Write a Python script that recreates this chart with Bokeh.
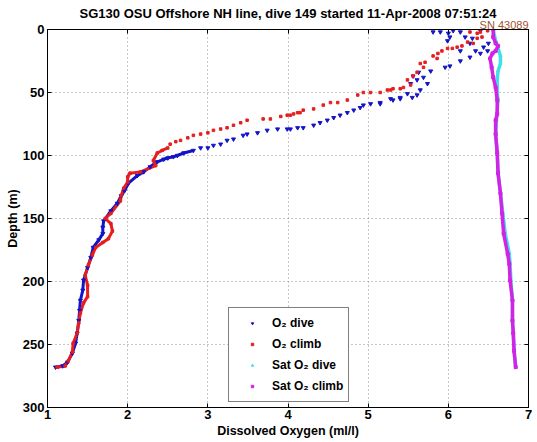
import numpy as np
from bokeh.plotting import figure
from bokeh.models import Range1d, LinearAxis, FixedTicker, Legend, LegendItem, Title
from bokeh.embed import file_html
from bokeh.resources import INLINE

title_text = "SG130 OSU Offshore NH line, dive 149 started 11-Apr-2008 07:51:24"
serial_text = "SN 43089"
x_label = "Dissolved Oxygen (ml/l)"
y_label = "Depth (m)"
x_ticks = [1, 2, 3, 4, 5, 6, 7]
y_ticks = [0, 50, 100, 150, 200, 250, 300]

# O2 dive (blue), ordered by depth
dive_o2 = [6.06, 6.40, 5.81, 5.90, 6.15, 6.00, 6.02, 6.21, 6.30, 5.99,
           6.50, 6.27, 6.44, 6.15, 6.34, 6.49, 6.40, 6.27, 6.15, 6.02,
           5.96, 5.78, 5.63, 5.56, 5.69, 5.61, 5.53, 5.74, 5.65, 5.49,
           5.61, 5.40, 5.55, 5.28, 5.40, 5.31, 5.15, 5.03, 5.15, 4.94,
           4.90, 4.82, 4.74, 4.65, 4.57, 4.49, 4.40, 4.32, 4.12, 4.19,
           4.03, 3.99, 3.87, 3.74, 3.62, 3.49, 3.44, 3.32, 3.24, 3.16,
           3.07, 3.00, 2.91, 2.82, 2.70, 2.62, 2.57, 2.50, 2.45, 2.37,
           2.28, 2.20, 2.12, 2.01, 1.96, 1.92, 1.87, 1.79, 1.70, 1.69,
           1.69, 1.64, 1.57, 1.54, 1.50, 1.45, 1.44, 1.41, 1.40, 1.39,
           1.37, 1.35, 1.31, 1.25, 1.19, 1.10]
dive_depth = [1, 1, 2, 2, 2, 3, 6, 6, 7, 9,
              11, 11, 14, 17, 17, 17, 19, 22, 25, 29,
              30, 33, 34, 37, 38, 40, 43, 43, 48, 51,
              52, 54, 54, 55, 55, 56, 58, 59, 59, 60,
              62, 64, 66, 68, 70, 72, 74, 76, 78, 78,
              79, 79, 79, 80, 82, 83, 84, 87, 88, 91,
              92, 94, 94, 96, 98, 100, 101, 102, 103, 105,
              109, 113, 116, 122, 128, 132, 138, 144, 152, 157,
              162, 167, 173, 181, 189, 199, 207, 215, 223, 231,
              241, 249, 257, 264, 267, 268]

# O2 climb (red), ordered by depth
climb_o2 = [6.49, 6.27, 6.40, 6.36, 6.42, 6.36, 6.24, 6.31, 6.17, 6.11,
            5.99, 6.05, 5.92, 5.87, 5.81, 5.86, 5.71, 5.65, 5.69, 5.61,
            5.56, 5.49, 5.53, 5.44, 5.40, 5.31, 5.24, 5.28, 5.15, 5.03,
            4.94, 4.87, 4.74, 4.62, 4.53, 4.44, 4.32, 4.19, 4.15, 4.12,
            4.07, 3.99, 4.03, 3.91, 3.78, 3.69, 3.49, 3.41, 3.32, 3.24,
            3.16, 3.07, 3.00, 2.91, 2.82, 2.75, 2.66, 2.60, 2.53, 2.50,
            2.43, 2.37, 2.32, 2.35, 2.16, 2.03, 2.00, 2.00, 1.95, 1.92,
            1.91, 1.79, 1.72, 1.79, 1.81, 1.76, 1.69, 1.60, 1.56, 1.51,
            1.47, 1.50, 1.50, 1.45, 1.41, 1.39, 1.37, 1.32, 1.31, 1.26,
            1.22, 1.12]
climb_depth = [1, 2, 2, 3, 6, 7, 10, 11, 13, 14,
               15, 15, 17, 19, 21, 23, 26, 27, 30, 34,
               37, 40, 44, 46, 47, 47, 48, 48, 50, 50,
               50, 52, 56, 58, 58, 60, 63, 64, 66, 66,
               67, 68, 68, 69, 71, 71, 72, 74, 76, 78,
               79, 80, 82, 83, 84, 86, 88, 89, 91, 94,
               96, 98, 104, 108, 113, 114, 117, 121, 126, 132,
               136, 146, 150, 154, 160, 166, 169, 173, 179, 187,
               195, 203, 212, 217, 225, 233, 241, 249, 256, 263,
               267, 268]

# Sat O2 dive (cyan)
sat_dive_o2 = [6.56, 6.59, 6.62, 6.65, 6.65, 6.62, 6.61, 6.61, 6.62, 6.60, 6.59, 6.61, 6.62, 6.65,
               6.68, 6.71, 6.76, 6.77, 6.78, 6.80, 6.80, 6.81, 6.82, 6.84]
sat_dive_depth = [0, 9, 15, 21, 27, 33, 40, 51, 56, 72, 83, 98, 114, 130,
                  146, 162, 178, 186, 199, 215, 231, 241, 255, 268]

# Sat O2 climb (magenta)
sat_climb_o2 = [6.56, 6.56, 6.59, 6.62, 6.59, 6.55, 6.52, 6.54, 6.56, 6.59, 6.61, 6.61, 6.59, 6.59,
                6.61, 6.62, 6.65, 6.67, 6.69, 6.74, 6.76, 6.77, 6.80, 6.80, 6.81, 6.82, 6.84]
sat_climb_depth = [0, 6, 11, 13, 17, 19, 23, 30, 38, 46, 56, 67, 72, 83,
                   98, 114, 130, 146, 162, 178, 186, 199, 215, 231, 241, 255, 268]

BLUE = "#1414C8"
RED = "#E61E1E"
CYAN = "#40E0E8"
MAGENTA = "#D223E6"
FONT = "Liberation Sans"

p = figure(width=537, height=442, x_range=Range1d(1, 7), y_range=Range1d(300, 0),
           output_backend="svg", toolbar_location=None, title=None,
           min_border_left=47, min_border_right=9, min_border_top=29, min_border_bottom=35)

p.outline_line_color = "black"
p.outline_line_width = 1
p.background_fill_color = "white"
p.border_fill_color = "white"

for ax in (p.xaxis[0], p.yaxis[0]):
    ax.major_label_text_font = FONT
    ax.major_label_text_font_size = "13px"
    ax.major_label_text_font_style = "bold"
    ax.major_label_text_color = "black"
    ax.axis_label_text_font = FONT
    ax.axis_label_text_font_size = "12.5px"
    ax.axis_label_text_font_style = "bold"
    ax.axis_label_text_color = "black"
    ax.major_tick_in = 4
    ax.major_tick_out = 0
    ax.minor_tick_line_color = None
    ax.axis_line_color = "black"
    ax.major_tick_line_color = "black"
    ax.axis_label_standoff = 0
    ax.major_label_standoff = 3

p.xaxis[0].ticker = FixedTicker(ticks=x_ticks)
p.yaxis[0].ticker = FixedTicker(ticks=y_ticks)
p.xaxis[0].axis_label = x_label
p.yaxis[0].axis_label = y_label
p.xaxis[0].major_label_standoff = 2
p.xaxis[0].axis_label_standoff = 2

# mirrored ticks on top and right (MATLAB box), no labels
top_ax = LinearAxis(ticker=FixedTicker(ticks=x_ticks), major_label_text_font_size="1px",
                    major_label_text_color=None,
                    major_tick_in=4, major_tick_out=0, minor_tick_line_color=None,
                    major_label_standoff=0)
right_ax = LinearAxis(ticker=FixedTicker(ticks=y_ticks), major_label_text_font_size="1px",
                      major_label_text_color=None,
                      major_tick_in=4, major_tick_out=0, minor_tick_line_color=None,
                      major_label_standoff=0)
p.add_layout(top_ax, "above")
p.add_layout(right_ax, "right")

sn_title = Title(text=serial_text, align="right", text_font=FONT, text_font_size="11px",
                 text_font_style="normal", text_color="#A0522D", standoff=-2, offset=0)
main_title = Title(text=title_text, align="center", text_font=FONT, text_font_size="13px",
                   text_font_style="bold", text_color="black", standoff=-6, offset=0)
p.add_layout(sn_title, "above")
p.add_layout(main_title, "above")

p.xgrid.ticker = FixedTicker(ticks=x_ticks)
p.ygrid.ticker = FixedTicker(ticks=y_ticks)
for g in (p.xgrid[0], p.ygrid[0]):
    g.grid_line_color = "#8C8C8C"
    g.grid_line_dash = "1 3"
    g.grid_line_width = 1

dive_o2_a = np.array(dive_o2)
dive_d_a = np.array(dive_depth)
climb_o2_a = np.array(climb_o2)
climb_d_a = np.array(climb_depth)
dmask = dive_d_a >= 96
cmask = climb_d_a >= 94

# dense deep profiles drawn as connected traces
p.line(dive_o2_a[dmask], dive_d_a[dmask], line_color=BLUE, line_width=3)
p.line(climb_o2_a[cmask], climb_d_a[cmask], line_color=RED, line_width=3)

r_dive = p.scatter(dive_o2, dive_depth, marker="inverted_triangle", size=4,
                   fill_color=BLUE, line_color=BLUE)
r_climb = p.scatter(climb_o2, climb_depth, marker="square", size=2.5,
                    fill_color=RED, line_color=RED)

p.line(sat_dive_o2, sat_dive_depth, line_color=CYAN, line_width=3.5)
r_sdive = p.scatter(sat_dive_o2, sat_dive_depth, marker="triangle", size=3,
                    fill_color=CYAN, line_color=CYAN)
p.line(sat_climb_o2, sat_climb_depth, line_color=MAGENTA, line_width=3.5)
r_sclimb = p.scatter(sat_climb_o2, sat_climb_depth, marker="square", size=3,
                     fill_color=MAGENTA, line_color=MAGENTA)

legend = Legend(items=[
    LegendItem(label="O\u2082 dive", renderers=[r_dive]),
    LegendItem(label="O\u2082 climb", renderers=[r_climb]),
    LegendItem(label="Sat O\u2082 dive", renderers=[r_sdive]),
    LegendItem(label="Sat O\u2082 climb", renderers=[r_sclimb]),
], location=(181, 5))
legend.label_text_font = FONT
legend.label_text_font_size = "12px"
legend.label_text_font_style = "bold"
legend.label_text_color = "black"
legend.border_line_color = "black"
legend.border_line_width = 1
legend.background_fill_color = "white"
legend.background_fill_alpha = 1
legend.padding = 5
legend.spacing = 1
legend.margin = 0
legend.glyph_width = 36
legend.glyph_height = 6
legend.label_height = 20
legend.label_standoff = 2
p.add_layout(legend)

open("out.html", "w").write(file_html(p, INLINE))
